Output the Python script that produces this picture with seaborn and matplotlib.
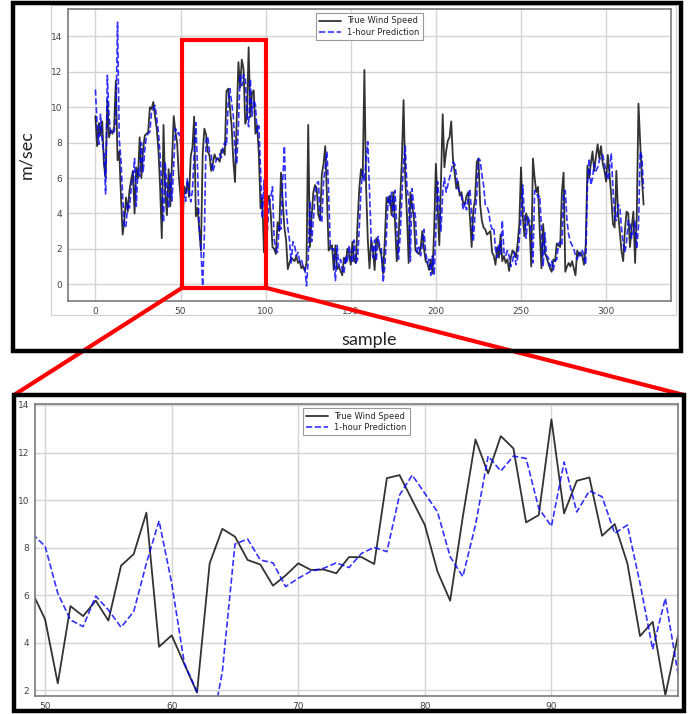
import matplotlib
matplotlib.use("Agg")
import matplotlib.pyplot as plt
import matplotlib.patches as mpatches
from matplotlib.lines import Line2D
import numpy as np
import seaborn as sns

# ---------------------------------------------------------------------------
# Data
# ---------------------------------------------------------------------------

TRUE_SPEED = [
    9.5, 7.8, 9.1, 8.4, 9.2, 6.8, 6.0, 10.4, 8.3, 8.7,
    8.5, 8.9, 11.5, 7.0, 7.5, 5.0, 2.8, 3.6, 4.9, 4.1,
    5.3, 5.9, 6.4, 4.0, 6.6, 6.0, 8.3, 6.0, 7.6, 8.4,
    8.5, 8.6, 10.0, 9.9, 10.3, 9.5, 8.8, 7.6, 5.5, 2.6,
    9.0, 5.2, 3.9, 6.5, 4.4, 6.9, 9.5, 8.6, 8.0, 6.1,
    4.98, 2.29, 5.54, 5.12, 5.77, 4.93, 7.24, 7.73, 9.47, 3.83,
    4.31, 3.10, 1.90, 7.34, 8.79, 8.46, 7.48, 7.29, 6.40, 6.83,
    7.34, 7.06, 7.08, 6.92, 7.60, 7.60, 7.31, 10.92, 11.05, 10.0,
    8.95, 6.99, 5.77, 9.30, 12.55, 11.12, 12.69, 12.17, 9.06, 9.37,
    13.39, 9.44, 10.81, 10.95, 8.50, 8.99, 7.34, 4.28, 4.88, 1.80,
    4.3, 4.6, 5.0, 4.0, 2.1, 2.0, 1.7, 3.5, 3.0, 6.3,
    4.7, 3.2, 2.5, 0.85, 1.2, 1.5, 1.4, 1.3, 1.6, 1.2,
    1.3, 0.9, 1.0, 0.75, 1.2, 9.0, 2.1, 3.8, 5.2, 5.6,
    5.4, 3.9, 3.6, 6.2, 6.8, 7.8, 5.0, 1.9, 2.1, 2.2,
    0.8, 2.2, 0.85, 1.0, 0.75, 0.5, 1.5, 1.2, 2.0, 1.7,
    1.1, 2.4, 1.3, 1.2, 3.5, 5.4, 6.5, 6.0, 12.1, 5.5,
    2.5, 0.9, 2.5, 2.0, 0.8, 2.6, 2.3, 2.0, 1.6, 0.6,
    2.5, 4.9, 4.6, 5.0, 3.9, 5.2, 3.5, 1.3, 2.5, 4.7,
    7.0, 10.4, 6.0, 3.9, 1.2, 5.2, 4.4, 3.9, 1.9, 1.8,
    1.7, 2.0, 3.0, 2.0, 1.3, 1.2, 0.8, 1.4, 0.6, 3.2,
    6.8, 4.5, 2.2, 6.0, 9.6, 6.6, 7.5, 8.1, 8.3, 9.2,
    7.1, 6.3, 5.4, 5.8, 5.0, 5.2, 4.6, 4.5, 5.0, 5.2,
    3.8, 2.1, 4.2, 4.8, 6.9, 7.1, 4.5, 3.6, 3.2, 3.1,
    2.8, 2.9, 3.0, 1.8, 1.6, 1.1, 2.1, 1.5, 2.8, 1.3,
    1.6, 1.2, 1.4, 0.75, 1.5, 1.9, 1.8, 1.5, 2.3, 3.4,
    6.6, 3.9, 2.7, 4.0, 3.6, 3.3, 1.0, 7.1, 6.0, 5.2,
    5.5, 3.0, 0.9, 3.4, 1.8, 1.5, 1.2, 0.9, 0.7, 1.4,
    1.3, 2.3, 2.2, 2.1, 5.2, 6.3, 0.7, 1.0, 1.2, 1.0,
    1.3, 0.9, 0.5, 1.9, 1.6, 1.8, 1.6, 1.1, 2.2, 6.7,
    6.0, 6.8, 7.5, 6.4, 7.2, 7.9, 7.1, 7.8, 6.8, 6.4,
    5.8, 7.3, 6.2, 5.0, 3.4, 3.2, 6.4, 4.0, 3.0, 1.9,
    1.3, 3.0, 4.1, 4.0, 2.1, 3.2, 4.1, 1.2, 3.9, 10.2,
    8.0, 6.0, 4.5,
]

PRED_SPEED = [
    11.0, 9.0, 7.9, 9.6, 8.0, 7.5, 5.1, 11.8, 9.5, 8.5,
    8.6, 8.6, 9.2, 14.8, 8.2, 7.0, 5.0, 3.2, 3.3, 4.6,
    4.3, 5.4, 6.0, 7.1, 4.4, 6.5, 6.1, 8.0, 6.3, 7.6,
    8.4, 8.5, 8.6, 9.8, 9.9, 10.1, 9.4, 8.6, 7.3, 5.5,
    3.5, 6.9, 5.3, 4.3, 6.3, 4.7, 6.8, 8.8, 8.5, 8.57,
    8.06, 6.08, 4.96, 4.68, 5.96, 5.38, 4.65, 5.31, 7.34, 9.13,
    6.50, 3.13, 1.94, -0.1, 2.78, 8.15, 8.36, 7.48, 7.36, 6.36,
    6.71, 7.01, 7.13, 7.36, 7.16, 7.76, 8.01, 7.83, 10.21, 11.05,
    10.28, 9.50, 7.62, 6.78, 8.95, 11.85, 11.22, 11.85, 11.75, 9.65,
    8.90, 11.60, 9.50, 10.39, 10.14, 8.60, 8.95, 6.50, 3.72, 5.87,
    2.7, 3.0, 4.5, 4.9, 5.5, 2.5, 2.0, 1.8, 3.4, 3.1,
    5.8, 7.8, 4.4, 3.2, 2.5, 1.2, 2.4, 2.2, 1.6, 1.8,
    1.3, 1.4, 1.0, 1.0, -0.1, 1.4, 4.7, 2.4, 3.6, 5.0,
    5.7, 5.8, 3.8, 3.5, 5.8, 6.6, 7.5, 5.2, 2.0, 2.0,
    2.0, 0.2, 2.2, 1.0, 1.4, 0.8, 0.6, 1.6, 1.2, 2.2,
    1.6, 1.2, 2.5, 1.2, 1.4, 3.2, 5.3, 6.4, 5.8, 7.0,
    8.05, 5.2, 2.5, 1.5, 2.5, 1.3, 2.7, 2.2, 2.0, 0.1,
    1.0, 2.8, 5.0, 4.4, 5.2, 3.8, 5.3, 3.2, 1.4, 2.7,
    4.9, 6.9, 7.8, 5.5, 4.8, 1.3, 5.4, 4.4, 3.8, 1.8,
    2.1, 1.6, 2.2, 3.1, 1.8, 1.2, 1.4, 0.5, 1.6, 0.5,
    3.3, 5.8, 4.5, 3.0, 5.2, 6.0, 5.2, 5.6, 6.0, 6.4,
    6.9, 6.8, 6.2, 5.4, 5.2, 5.0, 4.2, 4.6, 4.2, 4.9,
    5.4, 3.9, 2.4, 4.0, 5.0, 7.1, 7.0, 6.2, 5.6, 4.5,
    4.4, 4.1, 3.4, 3.1, 3.2, 2.0, 1.5, 2.3, 1.7, 3.6,
    1.8, 1.6, 1.9, 1.6, 1.0, 1.3, 1.8, 1.1, 1.5, 2.5,
    3.9, 5.6, 3.9, 2.6, 3.8, 3.6, 3.0, 1.2, 5.3, 5.2,
    4.9, 5.0, 3.2, 1.0, 2.9, 1.6, 1.5, 1.0, 1.3, 0.8,
    1.3, 1.4, 2.3, 2.4, 2.2, 5.2, 5.3, 3.6, 2.8, 2.4,
    2.2, 2.0, 1.6, 1.4, 1.8, 1.6, 1.9, 1.6, 1.1, 5.5,
    7.1, 5.6, 6.0, 6.8, 6.4, 6.6, 7.0, 7.2, 7.3, 6.8,
    6.3, 5.9, 6.5, 7.4, 5.4, 3.8, 3.6, 4.5, 4.4, 3.2,
    2.3, 1.8, 2.4, 3.6, 3.4, 2.6, 3.0, 3.6, 2.0, 3.3,
    7.5, 7.2, 5.4,
]

SAMPLES = list(range(len(TRUE_SPEED)))

ZOOM_START, ZOOM_END = 49, 101          # samples shown in the lower panel
BOX_X = (51, 100)                       # red box on the upper panel
BOX_Y = (-0.2, 13.8)

TOP_YTICKS = [0, 2, 4, 6, 8, 10, 12, 14]
TOP_XTICKS = [0, 50, 100, 150, 200, 250, 300]
BOT_YTICKS = [2, 4, 6, 8, 10, 12, 14]
BOT_XTICKS = [50, 60, 70, 80, 90]

LABEL_TRUE = "True Wind Speed"
LABEL_PRED = "1-hour Prediction"

# ---------------------------------------------------------------------------
# Style
# ---------------------------------------------------------------------------

sns.set_theme(style="whitegrid")
plt.rcParams["font.family"] = ["DejaVu Sans"]

W, H = 697, 714
fig = plt.figure(figsize=(W / 100, H / 100), dpi=100)
fig.patch.set_facecolor("white")


def px_rect(left, top, right, bottom):
    """Convert pixel box (origin top-left) to figure fraction rect."""
    return [left / W, 1 - bottom / H, (right - left) / W, (bottom - top) / H]


def style_axes(ax, xticks, yticks):
    ax.set_facecolor("white")
    ax.grid(True, color="#d4d4d4", linewidth=1.0)
    for sp in ax.spines.values():
        sp.set_color("#7a7a7a")
        sp.set_linewidth(1.2)
    ax.set_xticks(xticks)
    ax.set_yticks(yticks)
    ax.tick_params(labelsize=6.5, labelcolor="#444444", length=2, color="#7a7a7a", pad=2)


def draw_lines(ax, x, y_true, y_pred):
    sns.lineplot(x=x, y=y_true, ax=ax, color="black", alpha=0.8, linewidth=1.3, label=LABEL_TRUE)
    sns.lineplot(x=x, y=y_pred, ax=ax, color="blue", alpha=0.8, linewidth=1.2,
                 linestyle="--", label=LABEL_PRED)
    leg = ax.legend(loc="upper center", fontsize=6, frameon=True, fancybox=False,
                    edgecolor="#999999", framealpha=1, handlelength=2.6, borderpad=0.4,
                    labelspacing=0.3)
    leg.get_frame().set_linewidth(0.8)


# ---------------------------------------------------------------------------
# Upper panel: full series
# ---------------------------------------------------------------------------

ax_top = fig.add_axes(px_rect(68, 9, 671, 301))
style_axes(ax_top, TOP_XTICKS, TOP_YTICKS)
draw_lines(ax_top, SAMPLES, TRUE_SPEED, PRED_SPEED)
ax_top.set_xlim(-16.1, 338.1)
ax_top.set_ylim(-0.95, 15.55)
ax_top.set_xlabel("sample", fontsize=13, family="Lato", labelpad=12, color="#222222")
ax_top.set_ylabel("m/sec", fontsize=13, family="Lato", labelpad=12, color="#222222")

ax_top.add_patch(mpatches.Rectangle(
    (BOX_X[0], BOX_Y[0]), BOX_X[1] - BOX_X[0], BOX_Y[1] - BOX_Y[0],
    fill=False, edgecolor="red", linewidth=3, clip_on=False, zorder=5))

# ---------------------------------------------------------------------------
# Lower panel: zoomed window
# ---------------------------------------------------------------------------

ax_bot = fig.add_axes(px_rect(35, 404, 678, 696))
style_axes(ax_bot, BOT_XTICKS, BOT_YTICKS)
draw_lines(ax_bot, SAMPLES[ZOOM_START:ZOOM_END], TRUE_SPEED[ZOOM_START:ZOOM_END],
           PRED_SPEED[ZOOM_START:ZOOM_END])
ax_bot.set_xlim(49.2, 100.0)
ax_bot.set_ylim(1.76, 14.04)
ax_bot.set_xlabel("")
ax_bot.set_ylabel("")

# ---------------------------------------------------------------------------
# Frames and connectors
# ---------------------------------------------------------------------------

# faint border of the pasted top image
fig.add_artist(mpatches.Rectangle((51 / W, 1 - 315 / H), (676 - 51) / W, (315 - 5) / H,
                                  transform=fig.transFigure, fill=False,
                                  edgecolor="#cfcfcf", linewidth=0.8))

for box in [(13, 3, 681, 351), (14, 395, 684, 711)]:
    l, t, r, b = box
    fig.add_artist(mpatches.Rectangle((l / W, 1 - b / H), (r - l) / W, (b - t) / H,
                                      transform=fig.transFigure, fill=False,
                                      edgecolor="black", linewidth=3.2, zorder=10))

# connectors from red box corners to the lower frame
to_fig = fig.transFigure.inverted()
for xd, end_px in [(BOX_X[0], (14, 395)), (BOX_X[1], (684, 395))]:
    start = to_fig.transform(ax_top.transData.transform((xd, BOX_Y[0])))
    end = (end_px[0] / W, 1 - end_px[1] / H)
    fig.add_artist(Line2D([start[0], end[0]], [start[1], end[1]],
                          transform=fig.transFigure, color="red", linewidth=3, zorder=9))

fig.savefig("out.png", dpi=100)
